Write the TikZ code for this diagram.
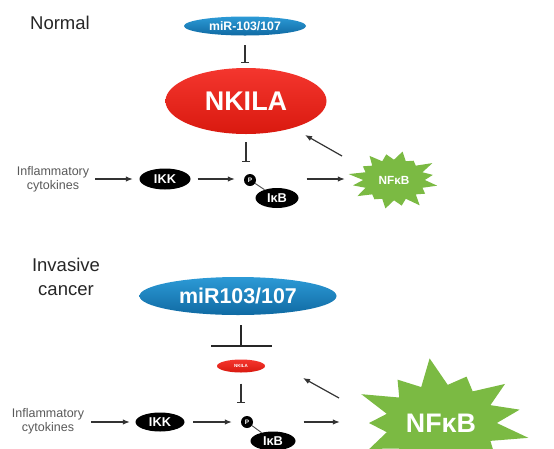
\documentclass[tikz,border=0pt]{standalone}
\usepackage{fontspec}
\setmainfont{Liberation Sans}
\usetikzlibrary{shapes.geometric,arrows.meta,calc,backgrounds}

\definecolor{mirtop}{HTML}{2C9AD6}
\definecolor{mirbot}{HTML}{106AA3}
\definecolor{lnctop}{HTML}{F4362E}
\definecolor{lncbot}{HTML}{D9190F}
\definecolor{nfgreen}{HTML}{7BBA43}

% spiky burst round a node: centre, rx, ry, inner ratio, points, outer factors
\newcommand{\burst}[6]{%
  \pgfmathsetmacro\bstep{360/#5}
  \fill[burst] (#1.center) \foreach \f [count=\k] in {#6} {
      -- ($(#1.center)+({(\k-1)*\bstep}:{#2*#4} and {#3*#4})$)
      -- ($(#1.center)+({(\k-0.5)*\bstep}:{#2*\f} and {#3*\f})$)
    } -- ($(#1.center)+(0:{#2*#4} and {#3*#4})$) -- cycle;}

\begin{document}
\begin{tikzpicture}[x=1pt,y=-1pt,
    every node/.style={align=center},
    state/.style={font=\fontsize{18.5}{24}\selectfont, text=black!85},
    cyto/.style={font=\fontsize{12.5}{14}\selectfont, text=black!65, inner sep=0pt},
    mirna/.style={ellipse, inner sep=0pt, text=white,
      top color=mirtop, bottom color=mirbot},
    lnc/.style={ellipse, inner sep=0pt, text=white,
      top color=lnctop, bottom color=lncbot},
    kinase/.style={ellipse, fill=black, text=white, inner sep=0pt,
      font=\fontsize{12.8}{14}\selectfont\bfseries},
    phos/.style={circle, fill=black, text=white, inner sep=0pt,
      minimum size=12pt, font=\fontsize{6.5}{7}\selectfont\bfseries},
    tf/.style={ellipse, inner sep=0pt, text=white},
    burst/.style={fill=nfgreen},
    arr/.style={-{Latex[length=7pt,width=5.5pt]}, line width=1.2pt, draw=black!80},
    inhib/.style={-{Bar[width=8pt]}, line width=1.2pt, draw=black!80},
    link/.style={line width=0.9pt, draw=black!70}]
  \useasboundingbox (0,0) rectangle (554,448);
  \clip (0,0) rectangle (554,448);

  % normal
  \node[state] (normal) at (60,23) {Normal};
  \node[mirna, minimum width=122pt, minimum height=19pt,
    font=\fontsize{12.3}{14}\selectfont\bfseries] (mirA) at (245,26) {miR-103/107};
  \node[lnc, minimum width=161pt, minimum height=66pt,
    font=\fontsize{27}{30}\selectfont\bfseries] (nkilaA) at (246,101) {NKILA};
  \node[cyto] (inflA) at (53,179) {Inflammatory\\cytokines};
  \node[kinase, minimum width=51pt, minimum height=21pt] (ikkA) at (165,179) {IKK};
  \node[phos] (pA) at (250,180) {P};
  \node[kinase, minimum width=43pt, minimum height=20pt] (ikbA) at (277,198) {IκB};
  \node[tf, minimum width=86pt, minimum height=50pt,
    font=\fontsize{11.8}{13}\selectfont\bfseries] (nfkbA) at (394,180) {NFκB};
  \begin{scope}[on background layer]
    \burst{nfkbA}{44}{29}{0.70}{16}{1,.85,1.05,.9,1,.8,1,.95,1.05,.85,1,.9,1,.8,1.05,.9}
  \end{scope}

  \draw[inhib, shorten <=9.5pt, shorten >=5pt] (mirA.south) -- (mirA.south |- nkilaA.north);
  \draw[inhib, shorten <=8pt, shorten >=12pt] (nkilaA.south) -- (nkilaA.south |- pA.north);
  \draw[arr, shorten <=6pt, shorten >=6.5pt] (inflA.east |- ikkA) -- (ikkA.west);
  \draw[arr, shorten <=7pt, shorten >=9pt] (ikkA.east) -- (ikkA.east -| pA.west);
  \draw[link] (pA) -- (ikbA);
  \draw[arr, shorten <=8pt, shorten >=6pt] (ikbA.east |- ikkA) -- (nfkbA.west |- ikkA);
  \draw[arr] ($(nfkbA)+(-52,-24)$) -- ($(nkilaA)+(59,34)$);

  % invasive cancer
  \node[state] (invasive) at (66,277) {Invasive\\cancer};
  \node[mirna, minimum width=197pt, minimum height=38pt,
    font=\fontsize{21.4}{24}\selectfont\bfseries] (mirB) at (238,296) {miR103/107};
  \node[lnc, minimum width=48pt, minimum height=13pt,
    font=\fontsize{4.5}{5}\selectfont\bfseries] (nkilaB) at (241,366) {NKILA};
  \node[cyto] (inflB) at (48,421) {Inflammatory\\cytokines};
  \node[kinase, minimum width=49pt, minimum height=19pt] (ikkB) at (160,422) {IKK};
  \node[phos] (pB) at (247,422) {P};
  \node[kinase, minimum width=45pt, minimum height=19pt] (ikbB) at (273,441) {IκB};
  \node[tf, minimum width=176pt, minimum height=90pt,
    font=\fontsize{26.8}{30}\selectfont\bfseries] (nfkbB) at (441,423) {NFκB};
  \begin{scope}[on background layer]
    \burst{nfkbB}{90}{62}{0.62}{13}{1,.8,1.05,.75,1,.9,.8,1,.85,1.05,.8,.95,.9}
  \end{scope}

  \draw[-{Bar[width=61pt]}, line width=2pt, draw=black!85, shorten <=10pt, shorten >=12.5pt]
    (mirB.south -| nkilaB) -- (nkilaB.north);
  \draw[inhib, shorten <=11pt, shorten >=13pt] (nkilaB.south) -- (nkilaB.south |- pB.north);
  \draw[arr, shorten <=7pt, shorten >=5.5pt] (inflB.east |- ikkB) -- (ikkB.west);
  \draw[arr, shorten <=8.5pt, shorten >=9pt] (ikkB.east) -- (pB.west);
  \draw[link] (pB) -- (ikbB);
  \draw[arr, shorten <=8pt, shorten >=13pt] (ikbB.east |- pB) -- (nfkbB.west |- pB);
  \draw[arr] ($(nfkbB)+(-102,-25)$) -- ($(nkilaB)+(62,12)$);
\end{tikzpicture}
\end{document}
